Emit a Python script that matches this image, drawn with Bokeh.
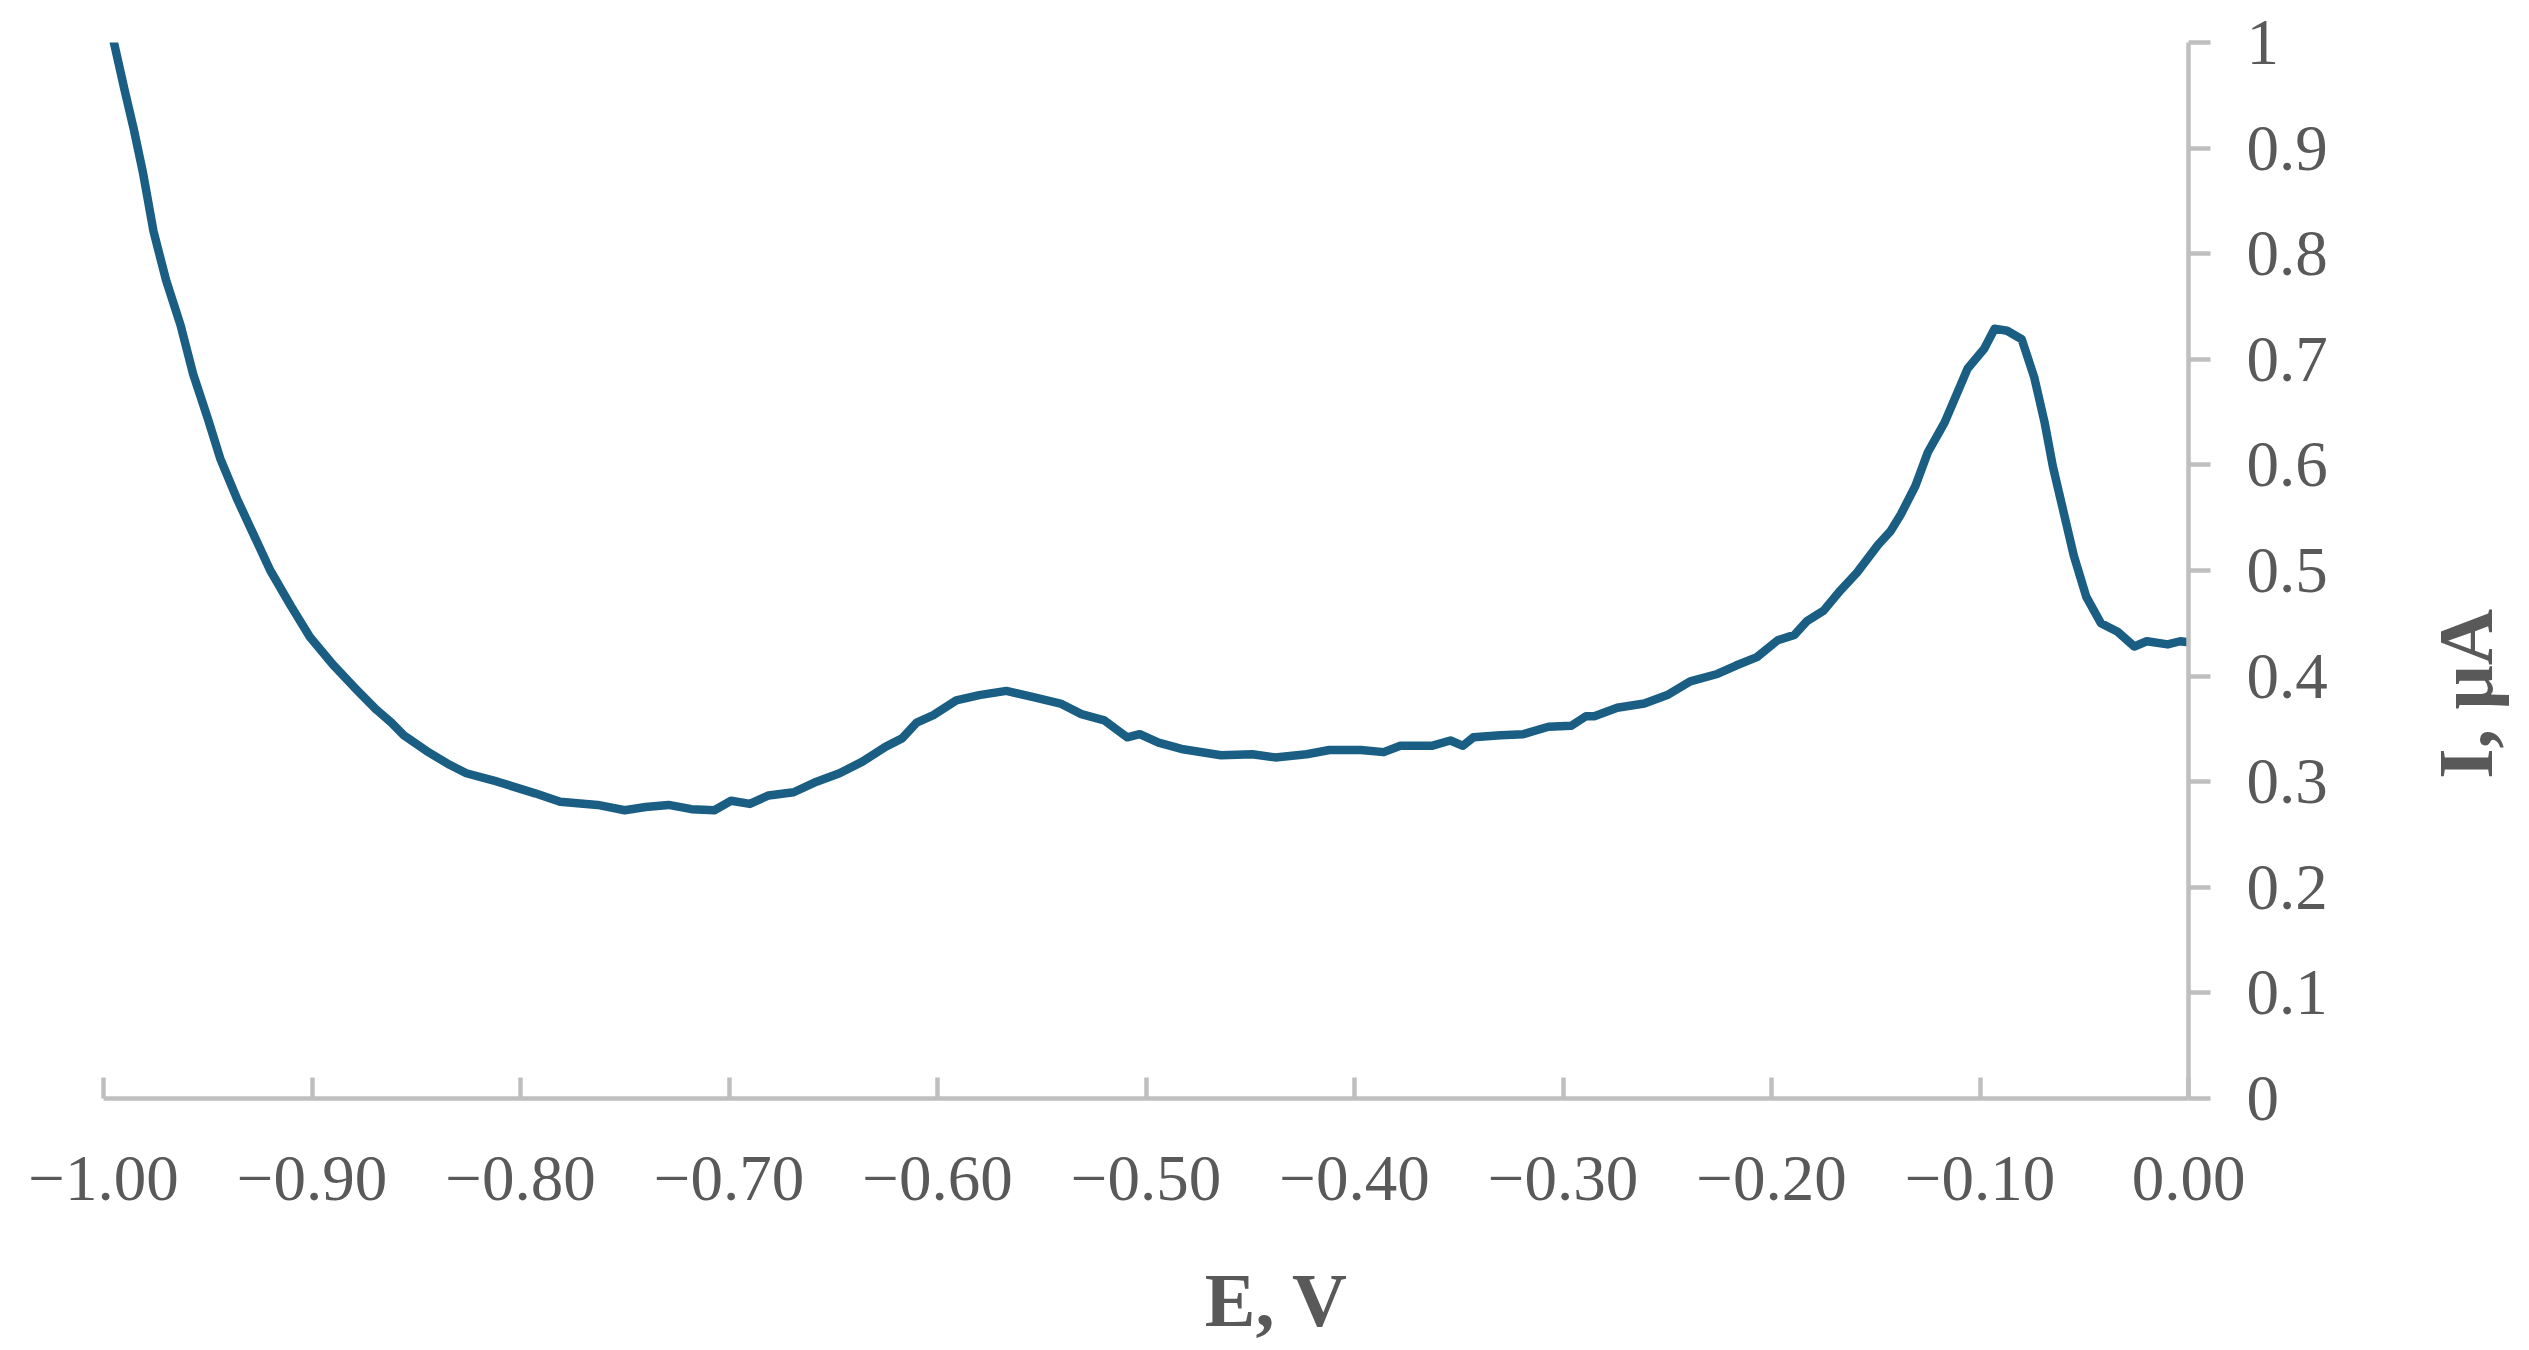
import math
from bokeh.plotting import figure
from bokeh.layouts import row, column
from bokeh.models import FixedTicker, Range1d, Label
from bokeh.embed import file_html
from bokeh.resources import INLINE

# Potential E (V) and current I (uA)
E_V = [-1.000, -0.995, -0.990, -0.9855, -0.981, -0.976, -0.970, -0.963, -0.957, -0.950,
       -0.944, -0.936, -0.928, -0.920, -0.910, -0.901, -0.890, -0.880, -0.869, -0.862,
       -0.856, -0.845, -0.834, -0.826, -0.811, -0.793, -0.781, -0.763, -0.750, -0.740,
       -0.729, -0.718, -0.707, -0.699, -0.690, -0.681, -0.669, -0.658, -0.647, -0.636,
       -0.625, -0.617, -0.610, -0.602, -0.591, -0.580, -0.567, -0.554, -0.541, -0.531,
       -0.520, -0.509, -0.503, -0.494, -0.483, -0.464, -0.449, -0.438, -0.423, -0.412,
       -0.397, -0.386, -0.378, -0.363, -0.354, -0.348, -0.343, -0.330, -0.319, -0.307,
       -0.296, -0.289, -0.285, -0.274, -0.261, -0.250, -0.239, -0.226, -0.217, -0.207,
       -0.197, -0.189, -0.183, -0.175, -0.167, -0.159, -0.149, -0.143, -0.138, -0.131,
       -0.125, -0.117, -0.106, -0.098, -0.093, -0.087, -0.080, -0.074, -0.069, -0.065,
       -0.060, -0.055, -0.049, -0.042, -0.034, -0.026, -0.020, -0.010, -0.004, 0.000]
I_uA = [1.043, 1.000, 0.956, 0.918, 0.876, 0.821, 0.775, 0.732, 0.686, 0.644,
        0.606, 0.568, 0.534, 0.500, 0.466, 0.437, 0.411, 0.390, 0.368, 0.356,
        0.344, 0.329, 0.316, 0.308, 0.300, 0.289, 0.281, 0.278, 0.273, 0.276,
        0.278, 0.274, 0.273, 0.282, 0.279, 0.287, 0.290, 0.300, 0.308, 0.319,
        0.333, 0.341, 0.356, 0.363, 0.377, 0.382, 0.386, 0.380, 0.374, 0.364,
        0.358, 0.342, 0.345, 0.337, 0.331, 0.325, 0.326, 0.323, 0.326, 0.330,
        0.330, 0.328, 0.334, 0.334, 0.339, 0.334, 0.342, 0.344, 0.345, 0.352,
        0.353, 0.362, 0.362, 0.370, 0.374, 0.382, 0.395, 0.402, 0.410, 0.418,
        0.434, 0.439, 0.452, 0.462, 0.481, 0.498, 0.524, 0.537, 0.553, 0.580,
        0.612, 0.640, 0.691, 0.710, 0.729, 0.727, 0.719, 0.683, 0.640, 0.598,
        0.556, 0.514, 0.475, 0.450, 0.442, 0.428, 0.433, 0.430, 0.433, 0.432]

x_ticks = [-1.0, -0.9, -0.8, -0.7, -0.6, -0.5, -0.4, -0.3, -0.2, -0.1, 0.0]
x_tick_labels = ["\u22121.00", "\u22120.90", "\u22120.80", "\u22120.70", "\u22120.60",
                 "\u22120.50", "\u22120.40", "\u22120.30", "\u22120.20", "\u22120.10", "0.00"]
y_ticks = [0.0, 0.1, 0.2, 0.3, 0.4, 0.5, 0.6, 0.7, 0.8, 0.9, 1.0]
y_tick_labels = ["0", "0.1", "0.2", "0.3", "0.4", "0.5", "0.6", "0.7", "0.8", "0.9", "1"]

x_title = "E, V"
y_title = "I, \u03bcA"

FONT = "Liberation Serif"
TXT = "#595959"
AX = "#BFBFBF"
W, H = 2529, 1350
W1, H1 = 2420, 1250      # main chart
W2 = W - W1              # right strip: rotated y title
H3 = H - H1              # bottom strip: x title


def blank(width, height):
    f = figure(width=width, height=height, output_backend="svg", toolbar_location=None,
               x_range=Range1d(0, width), y_range=Range1d(0, height),
               x_axis_location=None, y_axis_location=None,
               min_border=0, min_border_left=0, min_border_right=0,
               min_border_top=0, min_border_bottom=0)
    f.grid.visible = False
    f.outline_line_color = None
    f.background_fill_color = "white"
    f.border_fill_color = "white"
    return f


p = figure(width=W1, height=H1, output_backend="svg", toolbar_location=None,
           x_range=Range1d(-1.0, 0.0), y_range=Range1d(0.0, 1.0),
           y_axis_location="right",
           min_border_left=103, min_border_right=W1 - 2188, min_border_top=42,
           min_border_bottom=H1 - 1098)
p.outline_line_color = None
p.xgrid.visible = False
p.ygrid.visible = False
p.background_fill_color = "white"
p.border_fill_color = "white"

p.line(E_V, I_uA, line_color="#1a5e83", line_width=8.5, line_join="round")

xa = p.xaxis[0]
xa.ticker = FixedTicker(ticks=x_ticks, minor_ticks=[])
xa.major_label_overrides = dict(zip(x_ticks, x_tick_labels))
xa.axis_line_color = AX
xa.axis_line_width = 4.5
xa.major_tick_line_color = AX
xa.major_tick_line_width = 4.5
xa.major_tick_in = 21
xa.major_tick_out = 0
xa.minor_tick_line_color = None
xa.major_label_text_font = FONT
xa.major_label_text_font_size = "65px"
xa.major_label_text_color = TXT
xa.major_label_standoff = 58

ya = p.yaxis[0]
ya.ticker = FixedTicker(ticks=y_ticks, minor_ticks=[])
ya.major_label_overrides = dict(zip(y_ticks, y_tick_labels))
ya.axis_line_color = AX
ya.axis_line_width = 4.5
ya.major_tick_line_color = AX
ya.major_tick_line_width = 4.5
ya.major_tick_in = 0
ya.major_tick_out = 22
ya.minor_tick_line_color = None
ya.major_label_text_font = FONT
ya.major_label_text_font_size = "65px"
ya.major_label_text_color = TXT
ya.major_label_standoff = 36

# right strip: y title reading bottom-to-top
q = blank(W2, H1)
q.add_layout(Label(x=45, y=479, text=y_title, text_font=FONT,
                   text_font_size="78px", text_font_style="bold", text_color=TXT,
                   text_align="center", text_baseline="alphabetic",
                   angle=math.pi / 2, angle_units="rad"))

# bottom strip: x title
r = blank(W, H3)
r.add_layout(Label(x=1276, y=51, text=x_title, text_font=FONT,
                   text_font_size="76px", text_font_style="bold", text_color=TXT,
                   text_align="center", text_baseline="alphabetic"))

layout = column(row(p, q, spacing=0), r, spacing=0)
open("out.html", "w").write(file_html(layout, INLINE))
